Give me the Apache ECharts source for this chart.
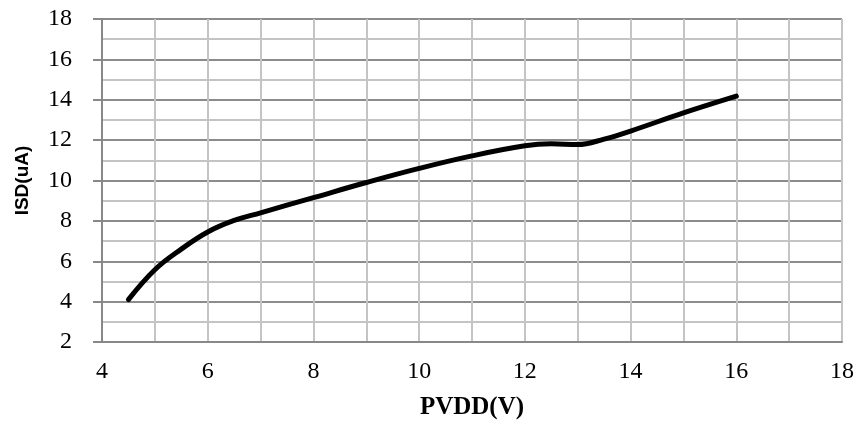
<!DOCTYPE html>
<html>
<head>
<meta charset="utf-8">
<script src="https://cdn.jsdelivr.net/npm/echarts@6/dist/echarts.min.js"></script>
<style>html,body{margin:0;padding:0;background:#fff}#c{width:859px;height:432px}</style>
</head>
<body>
<div id="c"></div>
<script>
const pvdd = [4.5, 5, 5.5, 6, 6.5, 7, 8, 9, 10, 11, 12, 12.5, 13, 13.5, 14, 15, 16];
const isd  = [4.1, 5.58, 6.6, 7.45, 8.02, 8.4, 9.15, 9.9, 10.6, 11.22, 11.72, 11.82, 11.78, 12.05, 12.45, 13.35, 14.18];
const xName = 'PVDD(V)';
const yName = 'ISD(uA)';

const chart = echarts.init(document.getElementById('c'));
chart.setOption({
  animation: false,
  backgroundColor: '#fff',
  grid: {left: 102, right: 17, top: 19, bottom: 90},
  xAxis: {
    type: 'value', min: 4, max: 18, interval: 2,
    name: xName, nameLocation: 'middle', nameGap: 53,
    nameTextStyle: {fontFamily: 'Liberation Serif', fontWeight: 'bold', fontSize: 25, color: '#000'},
    axisLine: {show: true, lineStyle: {color: '#888', width: 2}},
    axisTick: {show: false},
    axisLabel: {fontFamily: 'Liberation Serif', fontSize: 24, color: '#000', margin: 18},
    splitLine: {show: true, lineStyle: {color: '#c4c4c4', width: 2}},
    minorTick: {show: false, splitNumber: 2},
    minorSplitLine: {show: true, lineStyle: {color: '#c4c4c4', width: 2}}
  },
  yAxis: {
    type: 'value', min: 2, max: 18, interval: 2,
    name: yName, nameLocation: 'middle', nameGap: 70,
    nameTextStyle: {fontFamily: 'Liberation Sans', fontWeight: 'bold', fontSize: 19, color: '#000'},
    axisLine: {show: true, lineStyle: {color: '#888', width: 2}},
    axisTick: {show: true, length: 9, lineStyle: {color: '#888', width: 2}},
    axisLabel: {fontFamily: 'Liberation Serif', fontSize: 24, color: '#000', margin: 30},
    splitLine: {show: true, lineStyle: {color: '#8c8c8c', width: 2}},
    minorTick: {show: false, splitNumber: 2},
    minorSplitLine: {show: true, lineStyle: {color: '#c4c4c4', width: 2}}
  },
  series: [{
    type: 'line',
    data: pvdd.map((x, i) => [x, isd[i]]),
    smooth: 0.4,
    showSymbol: false,
    symbol: 'none',
    lineStyle: {color: '#000', width: 5, cap: 'round'}
  }]
});
</script>
</body>
</html>
